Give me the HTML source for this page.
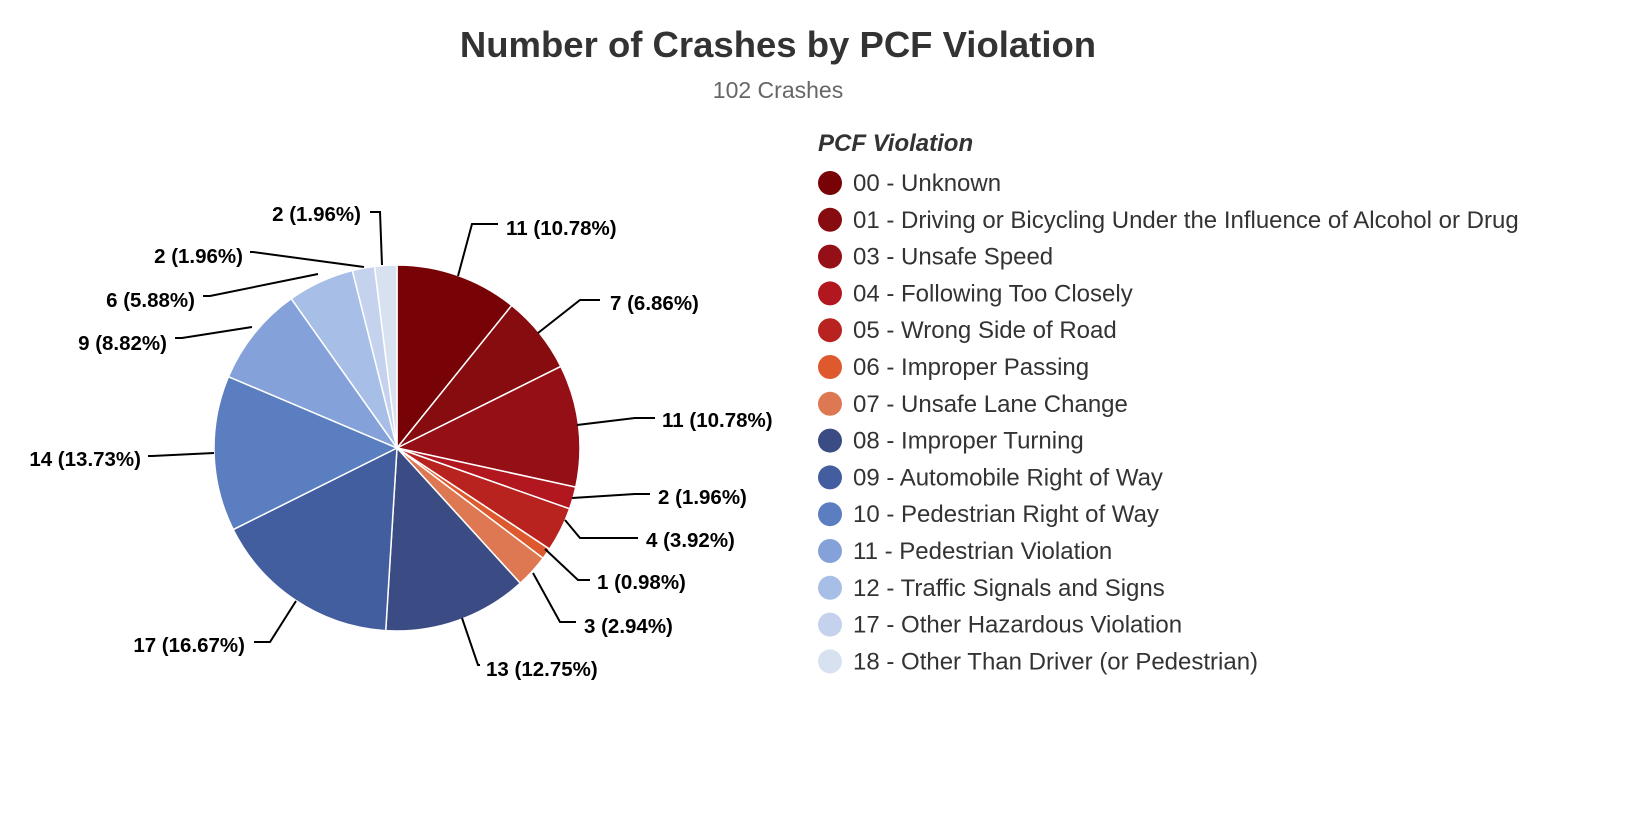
<!DOCTYPE html>
<html><head><meta charset="utf-8"><style>
body{margin:0;background:#fff;width:1648px;height:822px;overflow:hidden}
svg text{font-family:"Liberation Sans",Arial,sans-serif}
</style></head><body>
<svg id="s" width="1648" height="822" xmlns="http://www.w3.org/2000/svg">
<text x="778" y="57" text-anchor="middle" font-size="36.5" font-weight="bold" fill="#333">Number of Crashes by PCF Violation</text>
<text x="778" y="98" text-anchor="middle" font-size="23" fill="#666">102 Crashes</text>
<g id="pie"></g>
<g fill="none" stroke="#000" stroke-width="2">
<polyline points="458,276 472,224 498,224"/>
<polyline points="538,333 580,300 600,300"/>
<polyline points="577,425 635,418 655,418"/>
<polyline points="572,498 635,494 650,494"/>
<polyline points="565,520 580,538 638,538"/>
<polyline points="545,549 578,580 590,580"/>
<polyline points="533,573 560,622 576,622"/>
<polyline points="462,618 478,665 480,665"/>
<polyline points="296,601 270,642 254,642"/>
<polyline points="214,453 152,456 148,456"/>
<polyline points="252,327 182,338 175,338"/>
<polyline points="318,274 210,296 203,296"/>
<polyline points="364,267 253,252 250,252"/>
<polyline points="382,265 380,212 370,212"/>
</g>
<g font-size="20.5" font-weight="bold" fill="#000">
<text x="506" y="235">11 (10.78%)</text>
<text x="610" y="310">7 (6.86%)</text>
<text x="662" y="427">11 (10.78%)</text>
<text x="658" y="504">2 (1.96%)</text>
<text x="646" y="547">4 (3.92%)</text>
<text x="597" y="589">1 (0.98%)</text>
<text x="584" y="633">3 (2.94%)</text>
<text x="486" y="676">13 (12.75%)</text>
<text x="245" y="652" text-anchor="end">17 (16.67%)</text>
<text x="141" y="466" text-anchor="end">14 (13.73%)</text>
<text x="167" y="350" text-anchor="end">9 (8.82%)</text>
<text x="195" y="307" text-anchor="end">6 (5.88%)</text>
<text x="243" y="263" text-anchor="end">2 (1.96%)</text>
<text x="361" y="221" text-anchor="end">2 (1.96%)</text>
</g>
<text x="818" y="151" font-size="24" font-weight="bold" font-style="italic" fill="#333">PCF Violation</text>
<g id="leg" font-size="24" fill="#333"></g>
</svg>
<script>
var d=[[11,"#780306","00 - Unknown"],[7,"#870c0f","01 - Driving or Bicycling Under the Influence of Alcohol or Drug"],[11,"#950f17","03 - Unsafe Speed"],[2,"#b2161f","04 - Following Too Closely"],[4,"#b8231f","05 - Wrong Side of Road"],[1,"#de5a2e","06 - Improper Passing"],[3,"#de7853","07 - Unsafe Lane Change"],[13,"#3a4c83","08 - Improper Turning"],[17,"#435e9e","09 - Automobile Right of Way"],[14,"#5a7ebf","10 - Pedestrian Right of Way"],[9,"#84a2d9","11 - Pedestrian Violation"],[6,"#a7bee6","12 - Traffic Signals and Signs"],[2,"#c4d2ee","17 - Other Hazardous Violation"],[2,"#d8e1f0","18 - Other Than Driver (or Pedestrian)"]];
var cx=397,cy=448,r=183,a=-Math.PI/2,p="",l="";
d.forEach(function(e,i){var b=a+e[0]/102*2*Math.PI;
var x1=cx+r*Math.cos(a),y1=cy+r*Math.sin(a),x2=cx+r*Math.cos(b),y2=cy+r*Math.sin(b);
p+='<path d="M'+cx+','+cy+'L'+x1+','+y1+'A'+r+','+r+' 0 '+(b-a>Math.PI?1:0)+' 1 '+x2+','+y2+'Z" fill="'+e[1]+'" stroke="#fff" stroke-width="1.5"/>';a=b;
var y=183+i*36.8;l+='<circle cx="830" cy="'+y+'" r="12" fill="'+e[1]+'"/><text x="853" y="'+(y+8)+'">'+e[2]+'</text>';});
document.getElementById("pie").innerHTML=p;document.getElementById("leg").innerHTML=l;
</script>
</body></html>
